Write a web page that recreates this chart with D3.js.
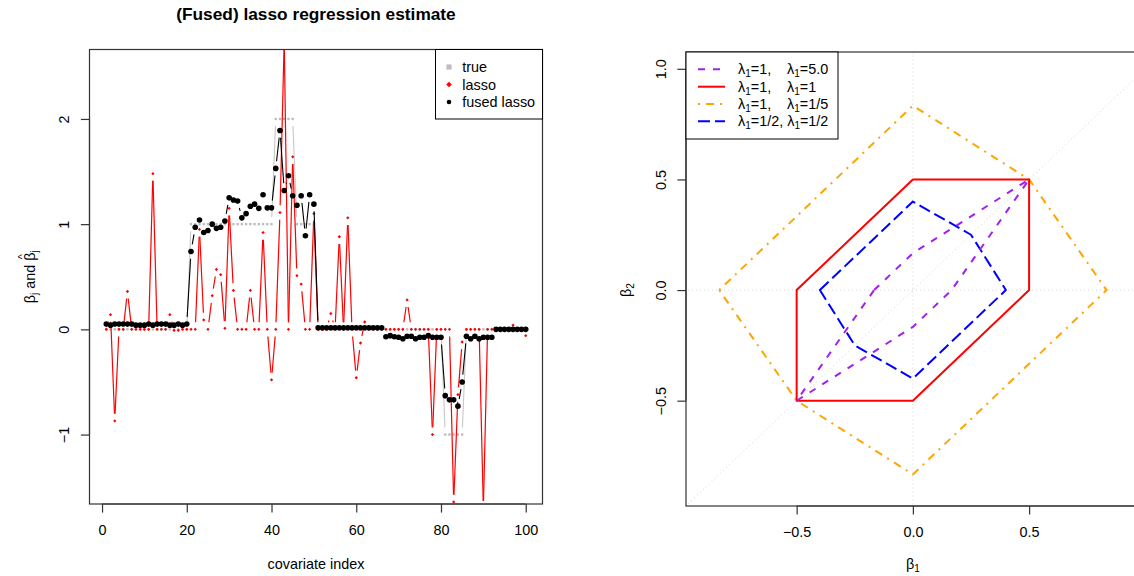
<!DOCTYPE html>
<html><head><meta charset="utf-8">
<script src="https://cdn.jsdelivr.net/npm/d3@7"></script>
<style>
body{margin:0;background:#fff}
svg text{font-family:"Liberation Sans",Arial,Helvetica,sans-serif;fill:#000}
</style>
</head><body>
<svg id="chart" width="1134" height="576"></svg>
<script>
// ---------------- data: left panel ----------------
const trueBeta = [0,0,0,0,0,0,0,0,0,0, 0,0,0,0,0,0,0,0,0,0,
  1,1,1,1,1,1,1,1,1,1, 1,1,1,1,1,1,1,1,1,1,
  2,2,2,2,2, 1,1,1,1,1,
  0,0,0,0,0,0,0,0,0,0, 0,0,0,0,0,0,0,0,0,0, 0,0,0,0,0,0,0,0,0,0,
  -1,-1,-1,-1,-1,
  0,0,0,0,0,0,0,0,0,0, 0,0,0,0,0];
const lassoBeta = [0,0.14,-0.87,0,0,0.36,0,0,0,0,
  0,1.48,0,0,0,0.14,-0.01,-0.01,0,0,
  0,0,0.95,0.09,0,0.32,0.57,0.52,0.01,1.15,
  0.37,0,0,0,0.37,0,0,0.92,0,-0.48,
  0,1.11,2.75,0,1.64,0.51,0.43,0,0,1.10,
  0,0,0,0.15,0,0.88,0,1.06,0,-0.46,
  -0.13,0.07,0,0,0,0,0,0,0,0,
  0,0.28,0,0,0,0,0,-1.0,0,0,
  0,0,-1.64,-0.62,-0.12,0,0,0,0,-1.7,
  0,0,0,0,0,0,0.04,0,0,-0.06];
const fusedBeta = [0.05,0.04,0.05,0.05,0.05,0.05,0.05,0.04,0.04,0.04,
  0.05,0.04,0.05,0.05,0.05,0.04,0.04,0.05,0.04,0.05,
  0.74,0.97,1.04,0.92,0.94,1.00,0.96,0.97,1.03,1.25,
  1.23,1.22,1.06,1.10,1.17,1.19,1.15,1.28,1.155,1.155,
  1.53,1.89,1.32,1.46,1.27,1.18,1.27,0.89,1.28,1.19,
  0.015,0.015,0.015,0.015,0.015,0.015,0.015,0.015,0.015,0.015,
  0.015,0.015,0.015,0.015,0.015,0.015,-0.07,-0.06,-0.07,-0.075,
  -0.09,-0.065,-0.065,-0.09,-0.075,-0.075,-0.06,-0.075,-0.075,-0.075,
  -0.63,-0.67,-0.67,-0.73,-0.50,-0.065,-0.09,-0.065,-0.09,-0.075,
  -0.075,-0.075,0,0,0,0,0,0,0,0];
const covariateIndex = d3.range(1, 101);
const leftXTicks = [0,20,40,60,80,100];
const leftYTicks = [-1,0,1,2];
const leftLegend = ["true","lasso","fused lasso"];

// ---------------- data: right panel ----------------
const ballPurple = [[-1/6,0],[0,1/6],[0.5,0.5],[1/6,0],[0,-1/6],[-0.5,-0.5]];
const ballRed    = [[-0.5,0],[0,0.5],[0.5,0.5],[0.5,0],[0,-0.5],[-0.5,-0.5]];
const ballOrange = [[-5/6,0],[0,5/6],[0.5,0.5],[5/6,0],[0,-5/6],[-0.5,-0.5]];
const ballBlue   = [[-0.4,0],[0,0.4],[0.25,0.25],[0.4,0],[0,-0.4],[-0.25,-0.25]];
const rightLegendA = ["=1,","=1,","=1,","=1/2,"];
const rightLegendB = ["=5.0","=1","=1/5","=1/2"];
const rightXTicks = [-0.5,0,0.5];
const rightYTicks = [-0.5,0,0.5,1];

const svg = d3.select("#chart");
const FS = 14.4;
const fmtMinus = s => s.replace("-", "\u2212");

// ================= LEFT PANEL =================
const L = {l:89.5, r:542.5, t:49.5, b:504};
const xL = d3.scaleLinear().domain([-2.96, 103.96]).range([L.l, L.r]);
const yL = d3.scaleLinear().domain([-1.66, 2.66]).range([L.b, L.t]);

svg.append("clipPath").attr("id","clipL").append("rect")
  .attr("x",L.l).attr("y",L.t).attr("width",L.r-L.l).attr("height",L.b-L.t);

const gL = svg.append("g").attr("clip-path","url(#clipL)");
const GAP = 7.2;
function typeB(g, vals, color, width){
  const pts = vals.map((v,i)=>[xL(covariateIndex[i]), yL(v)]);
  for(let i=1;i<pts.length;i++){
    const [x1,y1]=pts[i-1],[x2,y2]=pts[i];
    const len=Math.hypot(x2-x1,y2-y1);
    if(len<=2*GAP) continue;
    const ux=(x2-x1)/len, uy=(y2-y1)/len;
    g.append("line").attr("x1",x1+ux*GAP).attr("y1",y1+uy*GAP)
      .attr("x2",x2-ux*GAP).attr("y2",y2-uy*GAP)
      .attr("stroke",color).attr("stroke-width",width);
  }
}
// true
typeB(gL, trueBeta, "#c8c8c8", 1.1);
gL.selectAll("rect.tp").data(trueBeta).join("rect").attr("class","tp")
  .attr("x",(d,i)=>xL(covariateIndex[i])-1.2).attr("y",d=>yL(d)-1.2)
  .attr("width",2.4).attr("height",2.4).attr("fill","#bebebe");
// lasso
typeB(gL, lassoBeta, "#ff0000", 1.2);
gL.selectAll("path.lp").data(lassoBeta).join("path").attr("class","lp")
  .attr("d", d3.symbol(d3.symbolDiamond2, 7))
  .attr("transform",(d,i)=>`translate(${xL(covariateIndex[i])},${yL(d)})`)
  .attr("fill","#ff0000");
// fused
typeB(gL, fusedBeta, "#000", 1.1);
gL.selectAll("circle.fp").data(fusedBeta).join("circle").attr("class","fp")
  .attr("cx",(d,i)=>xL(covariateIndex[i])).attr("cy",d=>yL(d))
  .attr("r",2.8).attr("fill","#000");

// box
svg.append("rect").attr("x",L.l).attr("y",L.t).attr("width",L.r-L.l).attr("height",L.b-L.t)
  .attr("fill","none").attr("stroke","#333").attr("stroke-width",1.2);

// x axis
const axL = svg.append("g").attr("transform",`translate(0,${L.b})`)
  .call(d3.axisBottom(xL).tickValues(leftXTicks).tickSize(8.6).tickPadding(0).tickFormat(d=>d));
axL.select(".domain").attr("d",`M${xL(0)},0H${xL(100)}`).attr("stroke","#333").attr("stroke-width",1.2);
axL.selectAll(".tick line").attr("stroke","#333").attr("stroke-width",1.2);
axL.selectAll(".tick text").attr("y",31).attr("dy",null).attr("font-size",FS)
  .attr("font-family","Liberation Sans, Arial, sans-serif").attr("fill","#000");

// y axis
const ayL = svg.append("g").attr("transform",`translate(${L.l},0)`)
  .call(d3.axisLeft(yL).tickValues(leftYTicks).tickSize(8.6).tickFormat(d=>fmtMinus(String(d))));
ayL.select(".domain").attr("d",`M0,${yL(-1)}V${yL(2)}`).attr("stroke","#333").attr("stroke-width",1.2);
ayL.selectAll(".tick line").attr("stroke","#333").attr("stroke-width",1.2);
ayL.selectAll(".tick text").attr("x",null).attr("dy",null)
  .attr("transform","translate(-20.5,0) rotate(-90)").attr("text-anchor","middle")
  .attr("font-size",FS).attr("font-family","Liberation Sans, Arial, sans-serif").attr("fill","#000");

// titles
svg.append("text").attr("x",(L.l+L.r)/2).attr("y",20).attr("text-anchor","middle")
  .attr("font-size",17.3).attr("font-weight","bold").text("(Fused) lasso regression estimate");
svg.append("text").attr("x",(L.l+L.r)/2).attr("y",569).attr("text-anchor","middle")
  .attr("font-size",FS).text("covariate index");

// y label with hat
const ylG = svg.append("g").attr("transform",`translate(34.5,${(L.t+L.b)/2}) rotate(-90)`);
const yl = ylG.append("text").attr("font-size",FS);
const s1 = yl.append("tspan").text("β");
const s2 = yl.append("tspan").attr("font-size",10).attr("dy",3).text("j");
const s3 = yl.append("tspan").attr("dy",-3).text(" and ");
const s4 = yl.append("tspan").text("β");
const s5 = yl.append("tspan").attr("font-size",10).attr("dy",3).text("j");
const wParts = [s1,s2,s3,s4,s5].map(s=>s.node().getComputedTextLength());
const wTot = d3.sum(wParts);
yl.attr("x",-wTot/2);
const hatX = -wTot/2 + wParts[0]+wParts[1]+wParts[2] + wParts[3]/2;
ylG.append("text").attr("x",hatX).attr("y",-8.5).attr("text-anchor","middle")
  .attr("font-size",11).text("^");

// legend left
const lgL = {x:435.5, y:L.t, w:L.r-435.5, h:69.5};
svg.append("rect").attr("x",lgL.x).attr("y",lgL.y).attr("width",lgL.w).attr("height",lgL.h)
  .attr("fill","#fff").attr("stroke","#000").attr("stroke-width",1);
const rowsL = [67, 84.5, 102];
leftLegend.forEach((t,i)=>{
  const cy = rowsL[i];
  if(i===0) svg.append("rect").attr("x",449-2.6).attr("y",cy-2.6).attr("width",5.2).attr("height",5.2).attr("fill","#bebebe");
  if(i===1) svg.append("path").attr("d",d3.symbol(d3.symbolDiamond2,20)).attr("transform",`translate(449,${cy})`).attr("fill","#ff0000");
  if(i===2) svg.append("circle").attr("cx",449).attr("cy",cy).attr("r",2.3).attr("fill","#000");
  svg.append("text").attr("x",462.3).attr("y",cy+5).attr("font-size",FS).text(t);
});

// ================= RIGHT PANEL =================
const R = {l:686, r:1163, t:52, b:506};
const xR = d3.scaleLinear().domain([-0.976, 1.076]).range([R.l, R.r]);
const yR = d3.scaleLinear().domain([-0.976, 1.076]).range([R.b, R.t]);
svg.append("clipPath").attr("id","clipR").append("rect")
  .attr("x",R.l).attr("y",R.t).attr("width",R.r-R.l).attr("height",R.b-R.t);
const gR = svg.append("g").attr("clip-path","url(#clipR)");

// reference lines
const refCol = "#d3d3d3";
gR.append("line").attr("x1",xR(-2)).attr("x2",xR(2)).attr("y1",yR(0)).attr("y2",yR(0))
  .attr("stroke",refCol).attr("stroke-dasharray","1 3");
gR.append("line").attr("x1",xR(0)).attr("x2",xR(0)).attr("y1",yR(-2)).attr("y2",yR(2))
  .attr("stroke",refCol).attr("stroke-dasharray","1 3");
gR.append("line").attr("x1",xR(-2)).attr("x2",xR(2)).attr("y1",yR(-2)).attr("y2",yR(2))
  .attr("stroke",refCol).attr("stroke-dasharray","1 3");

const line = d3.line().x(d=>xR(d[0])).y(d=>yR(d[1])).curve(d3.curveLinearClosed);
const styles = [
  {pts:ballPurple, col:"#a020f0", dash:"7 8"},
  {pts:ballRed,    col:"#ff0000", dash:null},
  {pts:ballOrange, col:"#ffa500", dash:"2 6 8 6"},
  {pts:ballBlue,   col:"#0000ff", dash:"12 5"}
];
[styles[2], styles[1], styles[3], styles[0]].forEach(s=>{
  gR.append("path").attr("d",line(s.pts)).attr("fill","none")
    .attr("stroke",s.col).attr("stroke-width",2)
    .attr("stroke-dasharray",s.dash).attr("stroke-linejoin","round");
});

// box
svg.append("rect").attr("x",R.l).attr("y",R.t).attr("width",R.r-R.l).attr("height",R.b-R.t)
  .attr("fill","none").attr("stroke","#333").attr("stroke-width",1.2);

const axR = svg.append("g").attr("transform",`translate(0,${R.b})`)
  .call(d3.axisBottom(xR).tickValues(rightXTicks).tickSize(8.6).tickFormat(d=>fmtMinus(d3.format(".1f")(d))));
axR.select(".domain").attr("d",`M${xR(-0.5)},0H${xR(1)}`).attr("stroke","#333").attr("stroke-width",1.2);
axR.selectAll(".tick line").attr("stroke","#333").attr("stroke-width",1.2);
axR.selectAll(".tick text").attr("y",31).attr("dy",null).attr("font-size",FS)
  .attr("font-family","Liberation Sans, Arial, sans-serif").attr("fill","#000");

const ayR = svg.append("g").attr("transform",`translate(${R.l},0)`)
  .call(d3.axisLeft(yR).tickValues(rightYTicks).tickSize(8.6).tickFormat(d=>fmtMinus(d3.format(".1f")(d))));
ayR.select(".domain").attr("d",`M0,${yR(-0.5)}V${yR(1)}`).attr("stroke","#333").attr("stroke-width",1.2);
ayR.selectAll(".tick line").attr("stroke","#333").attr("stroke-width",1.2);
ayR.selectAll(".tick text").attr("x",null).attr("dy",null)
  .attr("transform","translate(-20.5,0) rotate(-90)").attr("text-anchor","middle")
  .attr("font-size",FS).attr("font-family","Liberation Sans, Arial, sans-serif").attr("fill","#000");

const xlR = svg.append("text").attr("x",xR(0)).attr("y",569).attr("text-anchor","middle").attr("font-size",FS);
xlR.append("tspan").text("β");
xlR.append("tspan").attr("font-size",10).attr("dy",3).text("1");
const ylR = svg.append("text").attr("transform",`translate(631,${yR(0)}) rotate(-90)`)
  .attr("text-anchor","middle").attr("font-size",FS);
ylR.append("tspan").text("β");
ylR.append("tspan").attr("font-size",10).attr("dy",3).text("2");

// legend right
svg.append("rect").attr("x",R.l).attr("y",R.t).attr("width",838-R.l).attr("height",139-R.t)
  .attr("fill","#fff").attr("stroke","#000").attr("stroke-width",1);
const rowsR = [69.3, 86.7, 104, 121.3];
styles.forEach((s,i)=>{
  const cy = rowsR[i];
  svg.append("line").attr("x1",698).attr("x2",725).attr("y1",cy).attr("y2",cy)
    .attr("stroke",s.col).attr("stroke-width",2).attr("stroke-dasharray",s.dash);
  const t1 = svg.append("text").attr("x",738).attr("y",cy+5).attr("font-size",FS)
    .attr("xml:space","preserve").style("white-space","pre");
  t1.append("tspan").text("λ");
  t1.append("tspan").attr("font-size",10).attr("dy",3).text("1");
  t1.append("tspan").attr("dy",-3).text(rightLegendA[i]);
  const sec = t1.append("tspan").attr("dx",4);
  if(i<3) sec.attr("x",783);
  sec.text("λ");
  t1.append("tspan").attr("font-size",10).attr("dy",3).text("1");
  t1.append("tspan").attr("dy",-3).text(rightLegendB[i]);
});
</script>
</body></html>
